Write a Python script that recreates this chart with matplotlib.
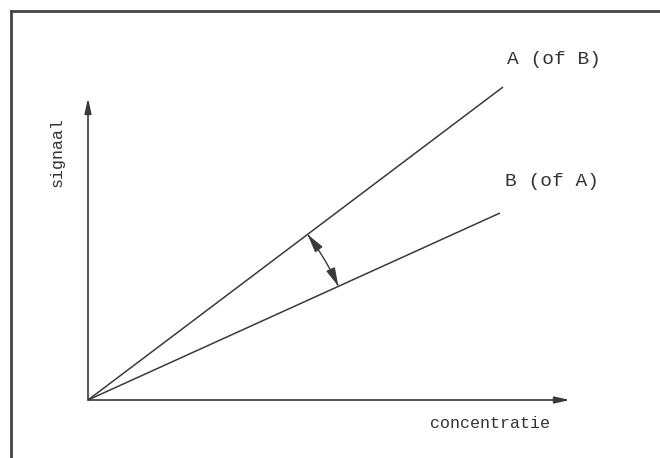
import numpy as np
import matplotlib
matplotlib.use("Agg")
import matplotlib.pyplot as plt
from matplotlib.patches import FancyArrowPatch
from matplotlib.path import Path
from matplotlib.lines import Line2D

# Data (arbitrary units)
conc_max = 482          # x-axis extent
signal_max = 302        # y-axis extent
line_labels = ["A (of B)", "B (of A)"]
line_end_x = [415, 412]
line_end_y = [313, 187]
arc_radius = 275
xlabel = "concentratie"
ylabel = "signaal"

fig = plt.figure(figsize=(6.6, 4.58), dpi=100)
fig.patch.set_facecolor("white")
ax = fig.add_axes([0, 0, 1, 1])
ax.set_xlim(-88, 572)
ax.set_ylim(-58, 400)
ax.axis("off")

ink = "#3a3a3a"
font = ["Liberation Mono", "DejaVu Sans Mono"]

# axes with arrows
ax.annotate("", xy=(conc_max, 0), xytext=(0, 0),
            arrowprops=dict(arrowstyle="-|>,head_length=0.9,head_width=0.2",
                            color=ink, lw=1.2, shrinkA=0, shrinkB=0))
ax.annotate("", xy=(0, signal_max), xytext=(0, 0),
            arrowprops=dict(arrowstyle="-|>,head_length=0.9,head_width=0.2",
                            color=ink, lw=1.2, shrinkA=0, shrinkB=0))

# the two lines
for ex, ey in zip(line_end_x, line_end_y):
    ax.plot([0, ex], [0, ey], color=ink, lw=1.1, solid_capstyle="butt")

# arc between lines
angA = np.arctan2(line_end_y[0], line_end_x[0])
angB = np.arctan2(line_end_y[1], line_end_x[1])
th = np.linspace(angA, angB, 40)
verts = np.column_stack([arc_radius * np.cos(th), arc_radius * np.sin(th)])
codes = [Path.MOVETO] + [Path.LINETO] * (len(verts) - 1)
arc = FancyArrowPatch(path=Path(verts, codes),
                      arrowstyle="<|-|>,head_length=0.8,head_width=0.2",
                      mutation_scale=14, color=ink, lw=1.0,
                      shrinkA=0, shrinkB=0)
ax.add_patch(arc)

# labels
ax.text(419, 340, line_labels[0], family=font, fontsize=14, color="#333333",
        ha="left", va="center")
ax.text(417, 219, line_labels[1], family=font, fontsize=14, color="#333333",
        ha="left", va="center")
ax.text(-31, 248, ylabel, family=font, fontsize=12, color="#333333",
        rotation=90, ha="center", va="center")
ax.text(342, -24, xlabel, family=font, fontsize=12, color="#333333",
        ha="left", va="center")

# scan border (left and top)
fig.add_artist(Line2D([11/660, 11/660], [0, 1 - 11/458], color="#444444", lw=2))
fig.add_artist(Line2D([11/660, 1], [1 - 11/458, 1 - 11/458], color="#444444", lw=2))

fig.savefig("out.png", dpi=100)
